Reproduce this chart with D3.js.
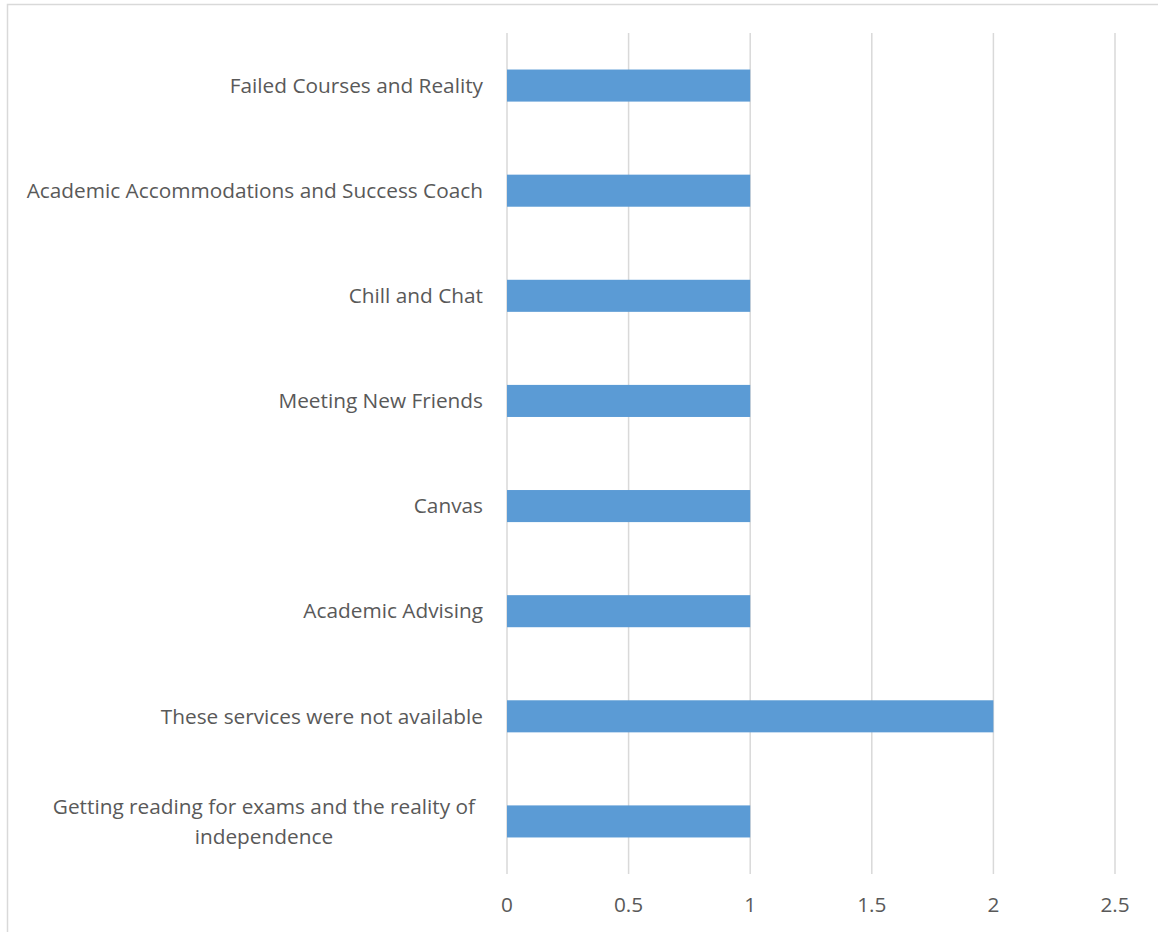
<!DOCTYPE html>
<html><head><meta charset="utf-8">
<script src="https://cdn.jsdelivr.net/npm/d3@7"></script>
<style>body{margin:0;background:#fff}svg{display:block}</style>
</head><body>
<script>
const categories = [
  "Failed Courses and Reality",
  "Academic Accommodations and Success Coach",
  "Chill and Chat",
  "Meeting New Friends",
  "Canvas",
  "Academic Advising",
  "These services were not available",
  "Getting reading for exams and the reality of independence"
];
const values = [1, 1, 1, 1, 1, 1, 2, 1];
const xTicks = [0, 0.5, 1, 1.5, 2, 2.5];

const W = 1158, H = 932;
const svg = d3.select("body").append("svg").attr("width", W).attr("height", H);
svg.append("rect").attr("x", 7.5).attr("y", 4.5).attr("width", W + 10).attr("height", H + 10)
  .attr("fill", "#fff").attr("stroke", "#d9d9d9").attr("stroke-width", 1.5);

const m = {left: 507, right: 1115, top: 33, bottom: 874};
const x = d3.scaleLinear().domain([0, 2.5]).range([m.left, m.right]);
const y = d3.scaleBand().domain(categories).range([m.top, m.bottom]).paddingInner(0.695).paddingOuter(0.3475);

const font = "'Open Sans', sans-serif";
const col = "#595959";
const fs = 20.8;

// gridlines
svg.append("g").selectAll("line").data(xTicks).join("line")
  .attr("x1", d => x(d)).attr("x2", d => x(d))
  .attr("y1", m.top).attr("y2", m.bottom)
  .attr("stroke", "#d9d9d9").attr("stroke-width", 1.5);

// bars
svg.append("g").selectAll("rect").data(categories).join("rect")
  .attr("x", x(0)).attr("y", d => y(d))
  .attr("width", (d, i) => x(values[i]) - x(0))
  .attr("height", y.bandwidth())
  .attr("fill", "#5b9bd5");

// x tick labels
svg.append("g").selectAll("text").data(xTicks).join("text")
  .attr("x", d => x(d)).attr("y", 905).attr("dy", "0.35em")
  .attr("text-anchor", "middle").attr("font-family", font).attr("font-size", fs)
  .attr("fill", col).text(d => d);

// category labels
const labelRight = 483;
const maxW = 470;
const lg = svg.append("g");
categories.forEach(c => {
  const cy = y(c) + y.bandwidth() / 2;
  const t = lg.append("text").attr("font-family", font).attr("font-size", fs).attr("fill", col)
    .attr("text-anchor", "end").attr("x", labelRight).attr("y", cy).attr("dy", "0.35em").text(c);
  if (t.node().getComputedTextLength() > maxW) {
    t.remove();
    const words = c.split(" ");
    const lines = [];
    let cur = [];
    const probe = lg.append("text").attr("font-family", font).attr("font-size", fs);
    words.forEach(w => {
      const test = cur.concat([w]).join(" ");
      probe.text(test);
      if (probe.node().getComputedTextLength() > maxW && cur.length) { lines.push(cur.join(" ")); cur = [w]; }
      else cur.push(w);
    });
    lines.push(cur.join(" "));
    let widest = 0;
    lines.forEach(l => { probe.text(l); widest = Math.max(widest, probe.node().getComputedTextLength()); });
    probe.remove();
    const cx = labelRight - 8 - widest / 2;
    const lh = 30;
    lines.forEach((l, i) => {
      lg.append("text").attr("font-family", font).attr("font-size", fs).attr("fill", col)
        .attr("text-anchor", "middle").attr("x", cx)
        .attr("y", cy + (i - (lines.length - 1) / 2) * lh).attr("dy", "0.35em").text(l);
    });
  }
});
</script>
</body></html>
